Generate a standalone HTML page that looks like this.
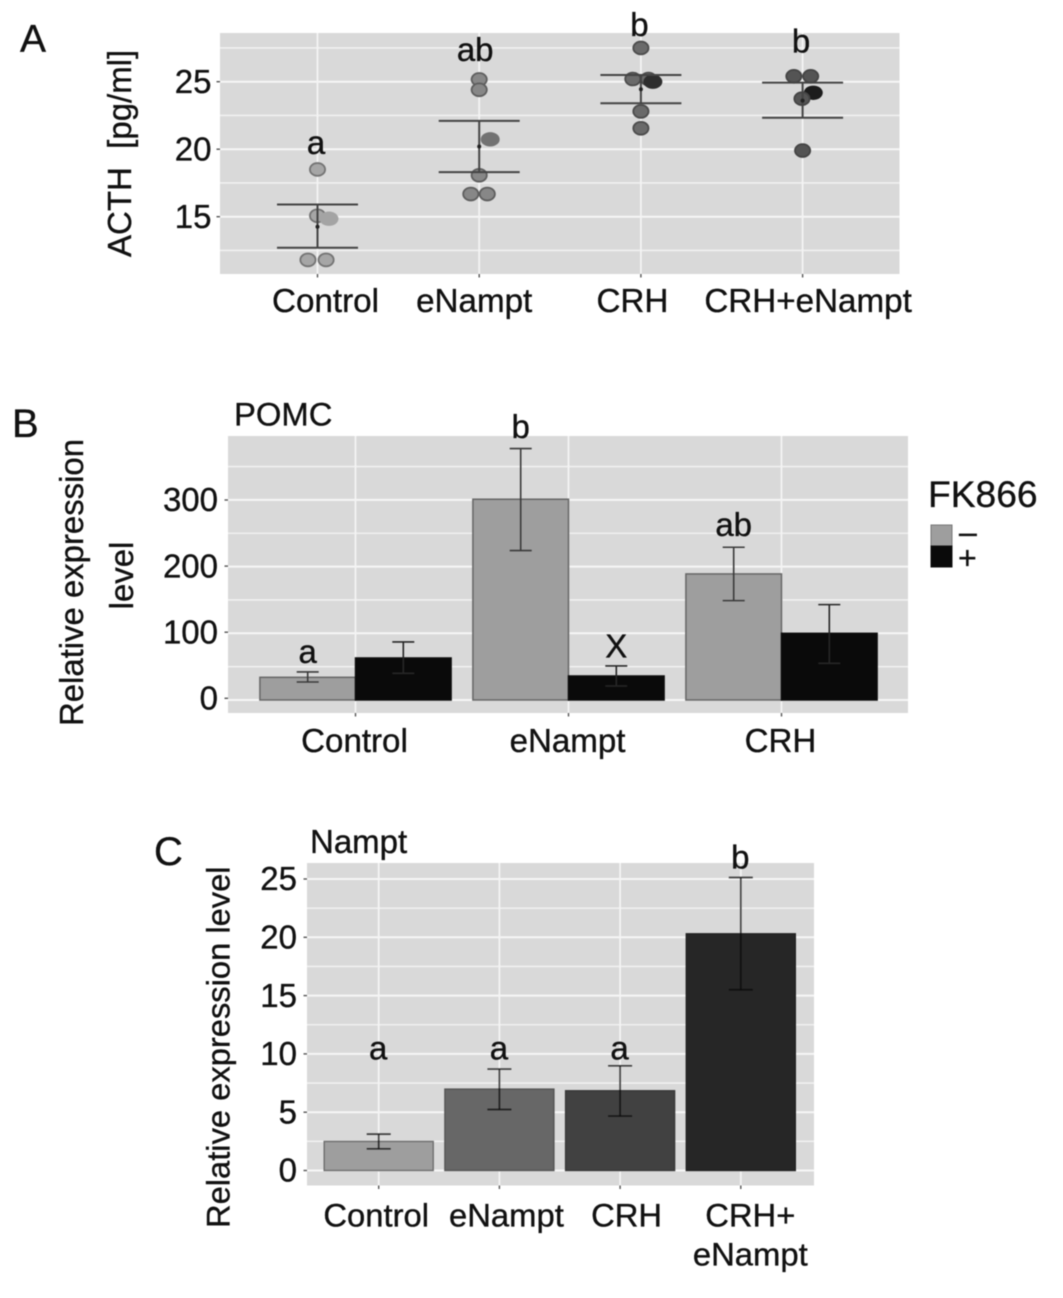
<!DOCTYPE html>
<html lang="en">
<head>
<meta charset="utf-8">
<title>ACTH, POMC and Nampt expression</title>
<style>
html,body{margin:0;padding:0;background:#fff;}
svg{display:block;filter:blur(0.6px);}
text{font-family:"Liberation Sans",sans-serif;fill:#111;stroke:#111;stroke-width:0.35px;}
</style>
</head>
<body>
<svg id="figure" xmlns="http://www.w3.org/2000/svg" width="1063" height="1298" viewBox="0 0 1063 1298">
  <g id="panel-a">
    <rect x="220" y="33" width="679.5" height="241" fill="#d9d9d9"/>
  </g>
  <g id="panel-b">
    <rect x="228" y="436" width="680" height="277" fill="#d9d9d9"/>
  </g>
  <g id="panel-c">
    <rect x="307" y="863" width="507" height="322.5" fill="#d9d9d9"/>
  </g>

  <text x="20" y="52" font-size="39">A</text>
  <text x="12" y="437" font-size="40">B</text>
  <text x="154" y="865" font-size="40">C</text>

  <text transform="translate(131,257) rotate(-90)" font-size="33" xml:space="preserve">ACTH  [pg/ml]</text>

  <text x="234" y="425.5" font-size="32.8">POMC</text>
  <text transform="translate(83,582.5) rotate(-90)" font-size="32.9" text-anchor="middle">Relative expression</text>
  <text transform="translate(133,575.5) rotate(-90)" font-size="32.9" text-anchor="middle">level</text>

  <g>
    <text x="928" y="507" font-size="37.2">FK866</text>
    <rect x="931" y="525" width="21" height="21" fill="#9e9e9e" stroke="#777" stroke-width="1"/>
    <rect x="931" y="546" width="21" height="21" fill="#0a0a0a" stroke="#111" stroke-width="1"/>
    <text x="959" y="543" font-size="32">–</text>
    <text x="958" y="569" font-size="32">+</text>
  </g>

  <text x="310" y="853" font-size="33">Nampt</text>
  <text transform="translate(229.5,1228) rotate(-90)" font-size="32.7">Relative expression level</text>
</svg>

<script>
// ---------- Chart A: ACTH ----------
const acthCategories = ['Control', 'eNampt', 'CRH', 'CRH+eNampt'];
const acthTicks = [15, 20, 25];
const acthMinorTicks = [12.5, 17.5, 22.5, 27.5];
const acthPoints = [
  [18.5, 15.07, 14.85, 11.8, 11.8],
  [25.17, 24.4, 20.73, 18.07, 16.68, 16.68],
  [27.5, 25.2, 25.2, 25.0, 22.8, 21.55],
  [25.4, 25.4, 24.18, 23.74, 19.9]
];
const acthJitter = [
  [0, 0, 0.071, -0.059, 0.053],
  [0, 0, 0.068, 0, -0.052, 0.05],
  [0, -0.05, 0.047, 0.074, 0, 0],
  [-0.054, 0.05, 0.066, -0.004, 0]
];
const acthMarkedPoint = [2, 2, 3, 2];
const acthMean = [14.26, 20.2, 24.44, 23.6];
const acthUpper = [15.9, 22.1, 25.5, 24.93];
const acthLower = [12.7, 18.3, 23.4, 22.33];
const acthSigLabels = ['a', 'ab', 'b', 'b'];
const acthSigHeights = [19.64, 26.53, 28.39, 27.15];

// ---------- Chart B: POMC ----------
const pomcCategories = ['Control', 'eNampt', 'CRH'];
const pomcTicks = [0, 100, 200, 300];
const pomcMinorTicks = [50, 150, 250, 350];
const pomcMinus = [34, 301, 189];
const pomcMinusUpper = [42, 377, 229];
const pomcMinusLower = [27, 224, 149];
const pomcPlus = [63, 36, 100];
const pomcPlusUpper = [87, 51, 143];
const pomcPlusLower = [40, 21, 55];
const pomcSigMinus = ['a', 'b', 'ab'];
const pomcSigMinusHeights = [55.5, 393, 246];
const pomcSigPlus = ['', 'X', ''];
const pomcSigPlusHeights = [0, 63.4, 0];

// ---------- Chart C: Nampt ----------
const namptCategories = ['Control', 'eNampt', 'CRH', 'CRH+'];
const namptTicks = [0, 5, 10, 15, 20, 25];
const namptMinorTicks = [2.5, 7.5, 12.5, 17.5, 22.5];
const namptValues = [2.49, 6.98, 6.84, 20.3];
const namptUpper = [3.12, 8.7, 8.98, 25.13];
const namptLower = [1.86, 5.23, 4.67, 15.5];
const namptSigLabels = ['a', 'a', 'a', 'b'];
const namptSigHeights = [9.5, 9.5, 9.5, 25.9];

// ---------- Axis functions ----------
const xA = i => 317.5 + 161.7 * i;
const yA = v => 216.7 - (v - 15) * 13.5;
const xB = i => 355.5 + 213 * i;
const yB = v => 700 - v * 0.667;
const yBTick = v => 698.3 - v * 0.661;
const xC = i => 378.7 + 120.7 * i;
const yC = v => 1170.5 - v * 11.66;

const NS = 'http://www.w3.org/2000/svg';
function make(parent, tag, attrs, content) {
  const el = document.createElementNS(NS, tag);
  for (const k in attrs) el.setAttribute(k, attrs[k]);
  if (content !== undefined) el.textContent = content;
  parent.appendChild(el);
  return el;
}
function hline(parent, x1, x2, y, stroke, width) {
  return make(parent, 'line', {x1: x1, x2: x2, y1: y, y2: y, stroke: stroke, 'stroke-width': width});
}
function vline(parent, x, y1, y2, stroke, width) {
  return make(parent, 'line', {x1: x, x2: x, y1: y1, y2: y2, stroke: stroke, 'stroke-width': width});
}
function label(parent, x, y, size, anchor, str) {
  return make(parent, 'text', {x: x, y: y, 'font-size': size, 'text-anchor': anchor}, str);
}

// Draws grid, ticks and y tick labels for one panel
function drawFrame(g, prefix, box, yFn, yTickFn, ticks, minor, xFn, count, labelRight) {
  minor.forEach(v => {
    const el = hline(g, box.l, box.r, yFn(v), '#f0f0f0', 1.6);
    
    
  });
  ticks.forEach(v => {
    const el = hline(g, box.l, box.r, yFn(v), '#f6f6f6', 2);
    
    
    const tick = hline(g, box.l - 3.5, box.l, yTickFn(v), '#555', 1.4);
    
    
    const txt = label(g, labelRight, yTickFn(v) + 11.2, 33, 'end', String(v));
    
    
  });
  for (let i = 0; i < count; i++) {
    const el = vline(g, xFn(i), box.t, box.b, '#f4f4f4', 1.8);
    
    
    const tick = vline(g, xFn(i), box.b, box.b + 3.5, '#555', 1.4);
    
    
  }
}

function drawError(g, name, x, top, bottom, capWidth, stroke, width) {
  const stem = vline(g, x, top, bottom, stroke, width);
  
  
  const capTop = hline(g, x - capWidth / 2, x + capWidth / 2, top, stroke, width);
  
  
  const capBottom = hline(g, x - capWidth / 2, x + capWidth / 2, bottom, stroke, width);
  
  
}

// ---------- Render A ----------
(function () {
  const g = document.getElementById('panel-a');
  drawFrame(g, 'acth', {l: 220, r: 899.5, t: 33, b: 274}, yA, yA, acthTicks, acthMinorTicks, xA, acthCategories.length, 211.5);
  const fills = ['#a6a6a6', '#878787', '#6a6a6a', '#545454'];
  const strokes = ['#747474', '#5e5e5e', '#4c4c4c', '#444444'];
  const marked = ['#a4a4a4', '#727272', '#2e2e2e', '#1c1c1c'];
  acthCategories.forEach((c, i) => {
    acthPoints[i].forEach((v, j) => {
      const isMarked = j === acthMarkedPoint[i];
      const p = make(g, 'ellipse', {
        cx: xA(i + acthJitter[i][j]), cy: yA(v),
        rx: isMarked ? 9.5 : 7.6, ry: isMarked ? 7.2 : 6.4,
        fill: isMarked ? marked[i] : fills[i],
        stroke: isMarked ? 'none' : strokes[i], 'stroke-width': 1.8
      });
      
      
    });
    drawError(g, 'acth-error-bar', xA(i), yA(acthUpper[i]), yA(acthLower[i]), 81, '#444', 2);
    const m = make(g, 'circle', {cx: xA(i), cy: yA(acthMean[i]), r: 2, fill: '#222'});
    
    
    const s = label(g, xA(i) + (acthSigLabels[i].length > 1 ? -4 : -1.5), yA(acthSigHeights[i]), 33, 'middle', acthSigLabels[i]);
    
    
  });
  const l0 = label(g, xA(0) + 8, 312, 33.2, 'middle', acthCategories[0]);
  
  
  const l1 = label(g, xA(1) - 5, 312, 33.2, 'middle', acthCategories[1]);
  
  
  const l2 = label(g, xA(2) - 8.5, 312, 33.2, 'middle', acthCategories[2]);
  
  
  const l3 = label(g, xA(3) + 5.5, 312, 33.2, 'middle', acthCategories[3]);
  
  
})();

// ---------- Render B ----------
(function () {
  const g = document.getElementById('panel-b');
  drawFrame(g, 'pomc', {l: 228, r: 908, t: 436, b: 713}, yB, yBTick, pomcTicks, pomcMinorTicks, xB, pomcCategories.length, 218);
  const w = 95.6;
  pomcCategories.forEach((c, i) => {
    const a = make(g, 'rect', {x: xB(i) - w, y: yB(pomcMinus[i]), width: w, height: yB(0) - yB(pomcMinus[i]), fill: '#9e9e9e', stroke: '#666', 'stroke-width': 1.5});
    
    
  });
  pomcCategories.forEach((c, i) => {
    const b = make(g, 'rect', {x: xB(i), y: yB(pomcPlus[i]), width: w, height: yB(0) - yB(pomcPlus[i]), fill: '#0a0a0a', stroke: '#0d0d0d', 'stroke-width': 1.5});
    
    
  });
  pomcCategories.forEach((c, i) => {
    drawError(g, 'pomc-error-bar-minus', xB(i) - w / 2, yB(pomcMinusUpper[i]), yB(pomcMinusLower[i]), 22, '#3a3a3a', 1.6);
    drawError(g, 'pomc-error-bar-plus', xB(i) + w / 2, yB(pomcPlusUpper[i]), yB(pomcPlusLower[i]), 22, '#262626', 1.6);
    const t = label(g, xB(i) - 1, 752, 33.1, 'middle', c);
    
    
    const s = label(g, xB(i) - w / 2, yB(pomcSigMinusHeights[i]), 33, 'middle', pomcSigMinus[i]);
    
    
    if (pomcSigPlus[i]) {
      const s2 = label(g, xB(i) + w / 2, yB(pomcSigPlusHeights[i]), 33, 'middle', pomcSigPlus[i]);
      
      
    }
  });
})();

// ---------- Render C ----------
(function () {
  const g = document.getElementById('panel-c');
  drawFrame(g, 'nampt', {l: 307, r: 814, t: 863, b: 1185.5}, yC, yC, namptTicks, namptMinorTicks, xC, namptCategories.length, 297);
  const w = 109;
  const fills = ['#9e9e9e', '#676767', '#414141', '#262626'];
  const edges = ['#6e6e6e', '#555555', '#383838', '#222222'];
  namptCategories.forEach((c, i) => {
    const b = make(g, 'rect', {x: xC(i) - w / 2, y: yC(namptValues[i]), width: w, height: yC(0) - yC(namptValues[i]), fill: fills[i], stroke: edges[i], 'stroke-width': 1.4});
    
    
    drawError(g, 'nampt-error-bar', xC(i), yC(namptUpper[i]), yC(namptLower[i]), 24, 'rgba(10,10,10,0.75)', 1.7);
    const s = label(g, xC(i) - 0.5, yC(namptSigHeights[i]), 33, 'middle', namptSigLabels[i]);
    
    
  });
  const l0 = label(g, xC(0) - 2.5, 1226.5, 32.8, 'middle', namptCategories[0]);
  
  
  const l1 = label(g, xC(1) + 7, 1226.5, 32.8, 'middle', namptCategories[1]);
  
  
  const l2 = label(g, xC(2) + 6.5, 1226.5, 32.8, 'middle', namptCategories[2]);
  
  
  const l3 = label(g, xC(3) + 9.5, 1226.5, 32.8, 'middle', namptCategories[3]);
  
  
  const l4 = label(g, xC(3) + 9.5, 1265.5, 32.8, 'middle', namptCategories[1]);
  
  
})();
</script>
</body>
</html>
